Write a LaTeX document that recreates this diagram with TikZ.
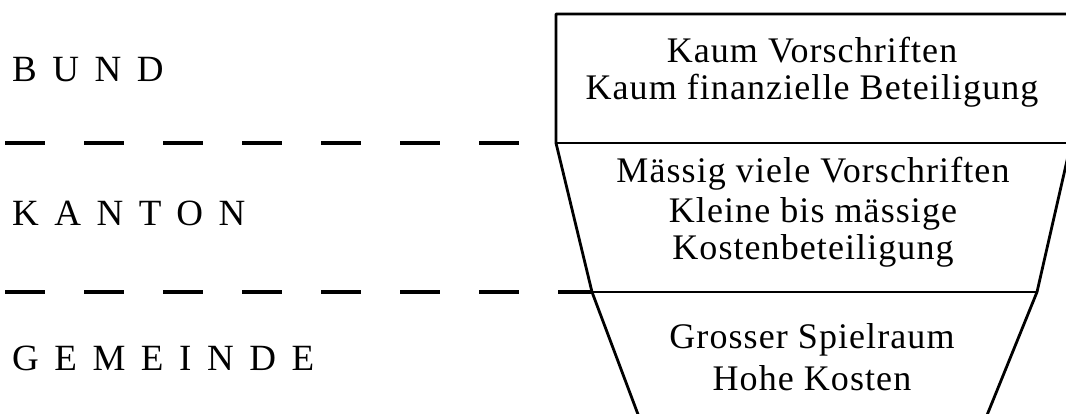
\documentclass[tikz,border=0pt]{standalone}
\usepackage{fontspec}
\setmainfont{Liberation Serif}[LetterSpace=3]
\newfontfamily\spacedfont{Liberation Serif}[LetterSpace=42]
\begin{document}
\begin{tikzpicture}[x=1pt,y=-1pt,
  frame/.style={line width=2.8pt,line join=round},
  levelline/.style={line width=4pt,dash pattern=on 40pt off 39pt},
  boxtext/.style={anchor=base,inner sep=0pt,font=\fontsize{36}{40}\selectfont},
  levellabel/.style={anchor=base west,inner sep=0pt,font=\fontsize{37}{40}\spacedfont}]
\useasboundingbox (0,0) rectangle (1066,414);
\clip (0,0) rectangle (1066,414);
% corner coordinates
\coordinate (tl) at (556,14);
\coordinate (tr) at (1071,14);
\coordinate (ml) at (556,143);
\coordinate (mr) at (1071,143);
\coordinate (ll) at (592,292);
\coordinate (lr) at (1037,292);
\coordinate (bl) at (642,425);
\coordinate (br) at (983,425);
% outline
\draw[frame] (tr) -- (tl) -- (ml) -- (ll) -- (bl);
\draw[frame] (tr) -- (mr) -- (lr) -- (br);
\draw[frame] (ml) -- (mr);
\draw[frame] (ll) -- (lr);
% dashed level lines
\coordinate (d1s) at (5,143);
\coordinate (d1e) at (520,143);
\coordinate (d2s) at (5,292);
\draw[levelline] (d1s) -- (d1e);
\draw[levelline] (d2s) -- (ll);
% level labels
\node[levellabel] (bund) at (12,82) {BUND};
\node[levellabel] (kanton) at (12,226) {KANTON};
\node[levellabel] (gemeinde) at (12,370) {GEMEINDE};
% box texts
\node[boxtext] (b1a) at (812,63) {Kaum Vorschriften};
\node[boxtext] (b1b) at (812,100) {Kaum finanzielle Beteiligung};
\node[boxtext] (b2a) at (813,183) {Mässig viele Vorschriften};
\node[boxtext] (b2b) at (813,223) {Kleine bis mässige};
\node[boxtext] (b2c) at (813,260) {Kostenbeteiligung};
\node[boxtext] (b3a) at (812,348) {Grosser Spielraum};
\node[boxtext] (b3b) at (812,390) {Hohe Kosten};
\end{tikzpicture}
\end{document}
